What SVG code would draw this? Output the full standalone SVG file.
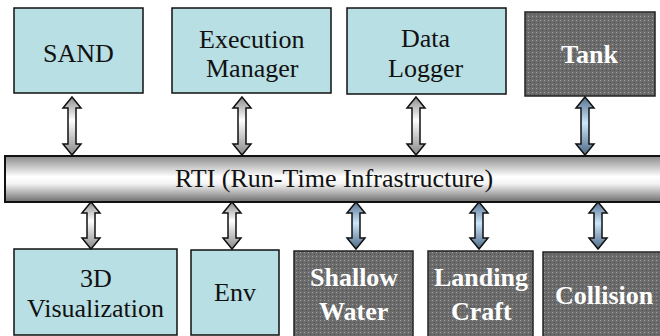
<svg xmlns="http://www.w3.org/2000/svg" width="660" height="336" viewBox="0 0 660 336">
<defs>
<pattern id="dots" width="4" height="4" patternUnits="userSpaceOnUse">
<rect width="4" height="4" fill="#6c6c6c"/>
<rect x="0" y="0" width="1" height="1" fill="#a0a0a0"/>
<rect x="2" y="2" width="1" height="1" fill="#4a4a4a"/>
</pattern>
<linearGradient id="bar" x1="0" y1="0" x2="0" y2="1">
<stop offset="0" stop-color="#8a8a8a"/>
<stop offset="0.45" stop-color="#ffffff"/>
<stop offset="0.6" stop-color="#f4f4f4"/>
<stop offset="1" stop-color="#6e6e6e"/>
</linearGradient>
<linearGradient id="gg" x1="0" y1="0" x2="0" y2="1">
<stop offset="0" stop-color="#8c8c8c"/>
<stop offset="0.4" stop-color="#ffffff"/>
<stop offset="1" stop-color="#888888"/>
</linearGradient>
<linearGradient id="bg" x1="0" y1="0" x2="0" y2="1">
<stop offset="0" stop-color="#56728f"/>
<stop offset="0.45" stop-color="#cce6fb"/>
<stop offset="1" stop-color="#4d6884"/>
</linearGradient>
<path id="aT" d="M0,0 L9,11 L4,11 L4,47 L9,47 L0,58 L-9,47 L-4,47 L-4,11 L-9,11 Z" stroke="#111" stroke-width="1.5"/>
<path id="aB" d="M0,0 L9,11 L4,11 L4,36 L9,36 L0,47 L-9,36 L-4,36 L-4,11 L-9,11 Z" stroke="#111" stroke-width="1.5"/>
</defs>

<g id="rti">
<rect x="5" y="156" width="665" height="46" fill="url(#bar)" stroke="#111" stroke-width="2"/>
<text x="175" y="187" font-family="Liberation Serif" font-size="26" fill="#111">RTI (Run-Time Infrastructure)</text>
</g>

<g id="sand"><rect x="14" y="8" width="129" height="85" fill="#b8dfe3" stroke="#111" stroke-width="1.5"/>
<text x="43" y="62" font-family="Liberation Serif" font-size="26" fill="#111">SAND</text></g>
<g id="exec"><rect x="172" y="8" width="159" height="85" fill="#b8dfe3" stroke="#111" stroke-width="1.5"/>
<text x="199" y="48" font-family="Liberation Serif" font-size="26" fill="#111">Execution</text>
<text x="206" y="77" font-family="Liberation Serif" font-size="26" fill="#111">Manager</text></g>
<g id="logger"><rect x="347" y="8" width="159" height="86" fill="#b8dfe3" stroke="#111" stroke-width="1.5"/>
<text x="401" y="47" font-family="Liberation Serif" font-size="26" fill="#111">Data</text>
<text x="388" y="77" font-family="Liberation Serif" font-size="26" fill="#111">Logger</text></g>
<g id="tank"><rect x="525" y="12" width="130" height="84" fill="url(#dots)" stroke="#222" stroke-width="1.5"/>
<text x="561" y="63" font-family="Liberation Serif" font-size="26" font-weight="bold" fill="#fff">Tank</text></g>

<g id="vis"><rect x="14" y="249" width="163" height="86" fill="#b8dfe3" stroke="#111" stroke-width="1.5"/>
<text x="80" y="287" font-family="Liberation Serif" font-size="26" fill="#111">3D</text>
<text x="27" y="317" font-family="Liberation Serif" font-size="26" fill="#111">Visualization</text></g>
<g id="env"><rect x="191" y="250" width="88" height="85" fill="#b8dfe3" stroke="#111" stroke-width="1.5"/>
<text x="214" y="301" font-family="Liberation Serif" font-size="26" fill="#111">Env</text></g>
<g id="shallow"><rect x="294" y="251" width="119" height="90" fill="url(#dots)" stroke="#222" stroke-width="1.5"/>
<text x="310" y="286" font-family="Liberation Serif" font-size="26" font-weight="bold" fill="#fff">Shallow</text>
<text x="319" y="320" font-family="Liberation Serif" font-size="26" font-weight="bold" fill="#fff">Water</text></g>
<g id="landing"><rect x="428" y="251" width="105" height="90" fill="url(#dots)" stroke="#222" stroke-width="1.5"/>
<text x="434" y="286" font-family="Liberation Serif" font-size="26" font-weight="bold" fill="#fff">Landing</text>
<text x="451" y="320" font-family="Liberation Serif" font-size="26" font-weight="bold" fill="#fff">Craft</text></g>
<g id="collision"><rect x="543" y="252" width="125" height="90" fill="url(#dots)" stroke="#222" stroke-width="1.5"/>
<text x="555" y="304" font-family="Liberation Serif" font-size="26" font-weight="bold" fill="#fff">Collision</text></g>

<g id="connectors">
<use href="#aT" fill="url(#gg)" x="72" y="97"/>
<use href="#aT" fill="url(#gg)" x="242" y="97"/>
<use href="#aT" fill="url(#gg)" x="416" y="97"/>
<use href="#aT" fill="url(#bg)" x="585" y="97"/>
<use href="#aB" fill="url(#gg)" x="91" y="202"/>
<use href="#aB" fill="url(#gg)" x="232" y="202"/>
<use href="#aB" fill="url(#bg)" x="356" y="202"/>
<use href="#aB" fill="url(#bg)" x="479" y="202"/>
<use href="#aB" fill="url(#bg)" x="598" y="202"/>
</g>
</svg>
